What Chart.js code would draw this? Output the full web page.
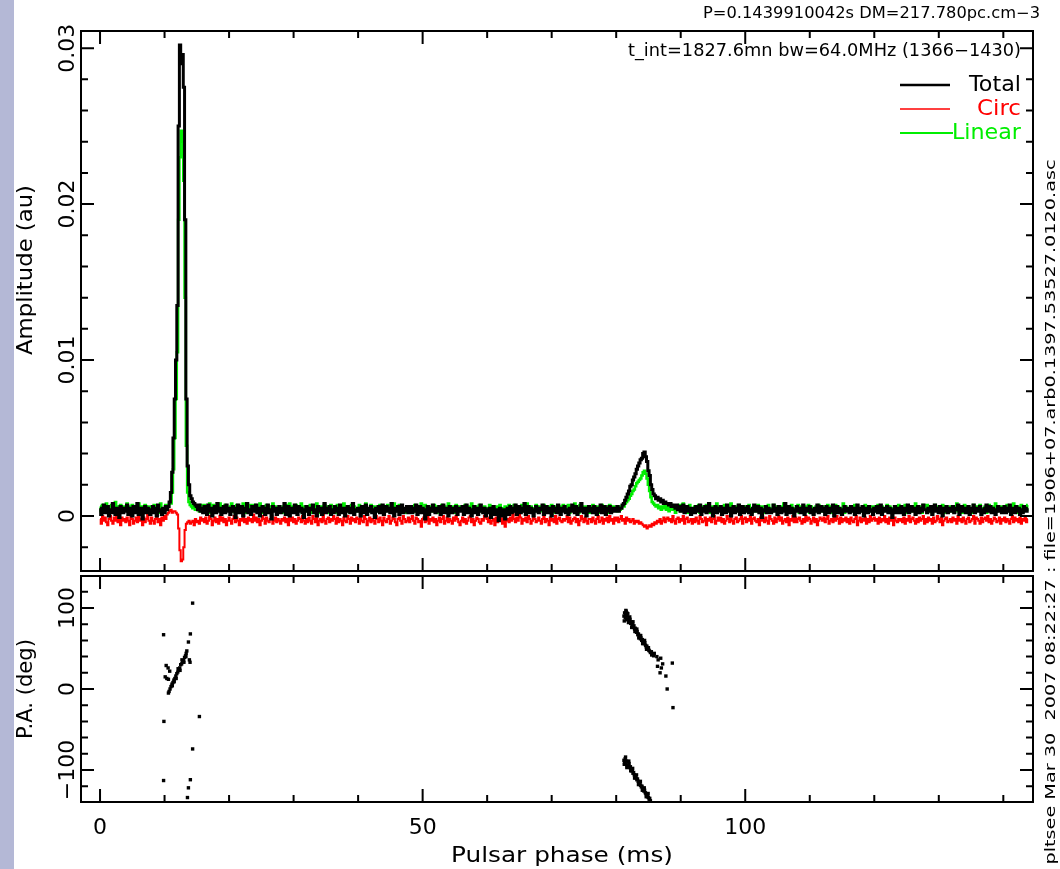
<!DOCTYPE html>
<html>
<head>
<meta charset="utf-8">
<title>Pulsar profile</title>
<script src="https://cdn.jsdelivr.net/npm/chart.js@4.4.1/dist/chart.umd.min.js"></script>
<style>
  html, body { margin: 0; padding: 0; background: #fff; }
  #page { position: relative; width: 1060px; height: 869px; overflow: hidden; }
  #strip { position: absolute; left: 0; top: 0; width: 14px; height: 869px; background: #b4b8d6; }
  canvas { position: absolute; left: 0; top: 0; }
</style>
</head>
<body>
<div id="page">
  <div id="strip"></div>
  <canvas id="profile" width="1060" height="869"></canvas>
  <canvas id="angle" width="1060" height="869"></canvas>
</div>
<script>
// --- datos ---
const binWidth = 0.2;   // ms por bin de fase
const ampUnit = 1e-4;   // valores en unidades de 1e-4 au

const totalI = [
  5,1,4,7,2,3,6,0,4,2,8,3,1,5,4,-1,6,3,2,5,
  3,7,1,4,5,0,6,2,4,8,1,3,5,-2,4,6,2,5,3,1,
  4,6,2,5,0,7,3,4,1,5,2,6,4,6,9,15,28,50,75,100,
  135,250,302,290,296,275,190,75,32,20,13,11,9,8,7,6,4,7,3,5,
  2,6,4,1,7,3,5,0,4,6,2,8,3,5,1,4,6,2,7,3,
  5,1,4,6,3,-1,5,7,2,4,6,0,3,5,8,2,4,1,6,3,
  4,7,2,5,0,3,6,4,1,5,7,2,4,-2,6,3,5,1,4,6,
  2,5,3,8,1,4,6,0,3,5,2,7,4,1,6,3,5,2,-1,4,
  6,3,1,5,4,7,2,4,0,6,3,5,1,4,8,2,5,3,6,1,
  4,2,6,3,5,1,7,4,2,5,0,3,6,4,2,5,8,1,4,3,
  5,3,0,6,2,4,7,1,5,3,6,2,4,-1,5,3,6,2,4,7,
  1,4,6,3,5,2,8,4,0,5,3,6,1,4,7,2,5,3,6,2,
  4,6,2,5,3,7,1,4,6,2,5,3,-2,4,6,1,5,3,7,4,
  2,5,3,6,1,4,7,2,5,3,0,6,4,2,5,3,6,1,4,5,
  3,6,1,4,7,2,5,3,0,4,6,2,5,1,3,7,4,2,5,0,
  4,2,5,-1,3,6,1,4,2,-3,5,3,0,4,-2,3,5,1,6,2,
  5,3,7,1,4,6,2,5,3,8,1,4,6,2,5,3,0,4,6,3,
  2,5,4,7,1,3,6,2,5,4,0,6,3,5,2,7,4,1,5,3,
  6,2,4,1,5,3,7,4,2,6,1,5,3,8,4,2,5,0,4,6,
  3,5,2,6,4,1,5,3,7,2,4,6,1,5,3,6,2,4,5,3,
  4,6,3,5,5,7,8,10,12,14,16,19,20,23,25,27,30,32,34,36,
  37,40,41,38,35,29,26,20,17,14,13,11,12,10,11,9,10,8,9,8,
  8,7,8,6,7,6,5,7,4,6,3,5,7,2,4,6,3,5,1,4,
  5,2,6,3,4,7,1,5,3,6,2,4,8,3,5,0,4,6,2,5,
  3,6,1,4,5,2,7,3,5,0,4,6,2,5,3,7,1,4,6,2,
  5,3,6,2,4,1,5,7,3,4,6,2,5,-1,4,3,6,2,5,4,
  2,4,7,3,5,1,6,4,2,5,3,8,1,4,6,2,5,3,0,4,
  6,3,5,2,4,7,1,4,5,3,6,2,4,1,5,3,7,2,4,6,
  3,5,1,6,4,2,5,3,7,0,4,6,2,5,3,1,4,6,3,5,
  4,2,6,3,5,1,4,7,2,5,3,6,0,4,5,2,6,3,4,1,
  5,3,6,2,4,7,1,5,3,4,6,2,5,3,-1,4,6,2,5,3,
  2,6,4,1,5,3,7,2,4,6,3,5,1,4,6,2,5,3,7,4,
  4,2,5,3,6,1,4,7,3,5,2,6,4,0,5,3,6,2,4,5,
  3,6,2,5,4,7,1,4,6,3,5,2,4,6,1,5,3,7,2,4,
  5,3,6,1,4,2,5,7,3,4,6,2,5,3,1,4,6,3,5,2,
  4,6,2,5,3,7,1,4,5,2,6,3,5,1,4,2,6,4,3,5
];

const circV = [
  -2,-5,0,-3,-1,-4,-6,-2,0,-3,-5,-1,-3,1,-4,-2,-6,-1,-3,-2,
  -4,-1,-3,-6,0,-2,-5,-3,-1,-4,0,-3,-2,-6,-1,-4,-2,1,-3,-5,
  -1,-3,-5,-2,0,-4,-2,-6,-1,-3,0,-2,1,2,3,4,2,3,3,2,
  1,-8,-22,-29,-28,-20,-9,-5,-4,-3,-5,-4,-3,-6,-2,-4,-3,-5,-1,-3,
  -2,-4,-1,-5,-3,0,-2,-6,-3,-1,-4,-2,-5,0,-3,-1,-4,-2,-6,-3,
  -1,-3,-5,-2,0,-4,-1,-3,-6,-2,-3,0,-4,-2,-5,-1,-3,-2,-4,1,
  -3,-1,-4,-2,-6,-3,0,-2,-5,-1,-3,-4,-2,0,-5,-3,-1,-4,-2,-3,
  -5,-2,-3,-1,-4,-2,-6,0,-3,-1,-4,-2,-5,-3,-1,-2,-4,0,-3,-5,
  -2,-4,-1,-3,-5,0,-2,-4,-1,-6,-3,-2,-4,1,-3,-5,-2,-1,-4,-2,
  -3,0,-2,-5,-1,-4,-2,-3,-6,-1,-3,-4,0,-2,-5,-1,-3,-2,-4,-1,
  -2,-5,-1,-3,-4,0,-2,-6,-3,-1,-4,-2,-3,-5,0,-2,-4,-1,-3,-6,
  -1,-3,-4,-2,0,-5,-3,-1,-2,-4,-6,-2,-1,-3,-5,0,-2,-4,-3,-1,
  -4,-2,0,-3,-5,-1,-2,-4,-3,-7,-2,-1,-4,-3,0,-5,-2,-3,-1,-4,
  -2,-6,-3,-1,-4,-2,0,-5,-3,-1,-4,-2,-3,-5,-1,-3,0,-2,-4,-6,
  -3,-1,-4,-2,-5,-3,-1,0,-4,-2,-6,-3,-1,-2,-4,-5,-2,-3,0,-1,
  -2,-4,-1,-5,-3,-2,-6,-1,-4,-3,0,-2,-5,-1,-7,-3,-2,-4,-1,-3,
  3,-2,-4,-1,-3,4,-1,-5,-2,-3,-1,-4,0,-2,-5,-3,-1,-2,-4,-3,
  -1,-3,-5,-2,0,-4,-2,-3,-6,-1,-3,-2,-4,0,-5,-2,-1,-3,-4,-2,
  -3,-2,0,-4,-1,-5,-3,-2,-1,-4,-2,-6,-3,0,-2,-4,-1,-3,-5,-2,
  -2,-4,-1,-3,-5,-2,0,-4,-3,-1,-5,-2,-3,-1,-4,0,-3,-2,-5,-1,
  -3,-1,-4,-2,0,-3,-2,-5,-1,-3,-2,-4,-3,-2,-5,-3,-4,-3,-5,-4,
  -5,-6,-7,-6,-8,-7,-6,-7,-5,-6,-4,-5,-3,-4,-2,-5,-3,-1,-4,-2,
  -1,-3,-2,-4,0,-3,-5,-2,-1,-4,-2,-3,0,-5,-2,-1,-4,-3,-2,-5,
  -2,-4,-1,-3,-5,0,-2,-4,-3,-1,-6,-2,-3,-1,-4,-2,0,-5,-3,-1,
  -3,-1,-4,-2,-5,-3,0,-2,-4,-1,-3,-5,-2,-1,-4,-3,-2,0,-5,-2,
  -1,-4,-2,-3,0,-5,-2,-1,-3,-4,-2,-6,-1,-3,-2,-4,-1,-3,-5,0,
  -2,-3,-5,-1,-4,-2,0,-3,-1,-5,-3,-2,-4,-1,-6,-2,-3,0,-4,-1,
  -4,-2,-1,-3,-5,-2,-4,0,-3,-1,-2,-5,-3,-1,-4,-2,-6,-3,-1,-2,
  -3,-1,-4,-2,0,-5,-3,-2,-4,-1,-3,0,-2,-5,-1,-4,-2,-3,-1,-4,
  -2,-5,-1,-3,-4,-2,0,-6,-3,-1,-4,-2,-3,-1,-5,-2,-4,0,-3,-2,
  -1,-3,-2,-5,-1,-4,-2,-3,0,-4,-2,-5,-1,-3,-2,-6,-1,-3,-4,-2,
  -3,-2,-4,-1,-5,-2,-3,0,-4,-2,-1,-3,-5,-2,-4,-1,-3,-2,0,-5,
  -2,-4,-1,-3,-2,-5,-1,-4,-3,0,-2,-4,-1,-6,-3,-2,-1,-4,-3,-2,
  -4,-1,-3,-2,-5,0,-3,-2,-4,-1,-3,-5,-2,-1,-4,-3,-2,0,-5,-1,
  -2,-3,-5,-1,-4,-2,-1,-3,0,-4,-2,-5,-3,-1,-2,-4,-3,-1,-5,-2,
  -3,-1,-4,-2,-3,-5,-2,0,-4,-1,-3,-2,-4,-1,-5,-2,-3,-1,-4,-2
];

const linearL = [
  6,3,7,4,5,8,2,6,4,7,3,5,9,4,6,2,7,5,3,6,
  5,8,3,6,4,7,2,5,6,3,8,4,6,2,5,7,3,6,4,5,
  6,4,7,3,5,2,6,8,4,5,3,7,4,6,8,8,15,30,50,75,
  105,190,230,247,240,215,140,45,15,9,7,6,5,7,4,6,5,3,7,4,
  5,7,3,6,4,8,2,5,7,3,6,4,5,8,3,6,2,7,4,5,
  4,6,8,3,5,2,7,4,6,3,5,8,4,2,6,5,3,7,4,6,
  7,3,5,4,8,2,6,4,5,7,3,6,2,5,8,4,6,3,5,4,
  5,2,6,4,7,3,5,8,4,6,2,5,7,3,6,4,8,2,5,6,
  3,6,4,7,2,5,6,3,8,4,5,2,6,4,7,3,5,6,2,7,
  6,4,5,2,7,4,3,6,5,8,4,6,3,5,2,7,4,6,5,3,
  4,7,3,5,6,2,8,4,5,3,7,4,6,2,5,6,3,7,4,5,
  6,3,5,7,4,5,2,6,8,3,5,4,7,3,6,4,5,2,6,4,
  5,6,2,4,7,3,5,6,4,8,2,5,7,4,3,6,4,5,3,7,
  4,2,6,5,3,7,4,6,2,5,8,3,5,6,4,2,7,4,5,6,
  6,4,3,7,5,2,6,4,8,3,5,6,2,4,7,3,5,4,6,2,
  3,5,7,4,6,3,5,2,6,4,7,3,5,4,6,2,5,7,3,4,
  5,7,3,6,2,5,4,7,3,6,4,8,2,5,6,3,5,4,7,3,
  4,6,5,3,7,2,5,6,4,3,7,4,5,2,6,5,3,6,4,7,
  6,3,5,7,2,6,4,5,8,3,5,2,7,4,6,3,5,6,4,2,
  5,4,7,3,6,4,2,6,5,7,3,5,4,6,2,7,5,3,6,4,
  5,3,6,4,5,6,6,8,9,10,11,13,14,16,17,19,21,22,23,24,
  26,28,29,27,24,20,16,12,9,8,7,6,7,5,6,4,6,5,7,4,
  6,3,5,7,4,5,2,6,4,7,3,5,8,4,6,2,5,7,3,5,
  4,6,3,5,7,2,6,4,5,3,7,4,6,2,5,6,3,5,8,4,
  6,4,5,2,7,4,6,3,5,8,2,5,4,6,3,7,4,5,2,6,
  3,6,4,7,5,2,5,6,3,4,7,3,5,6,4,2,6,4,7,5,
  5,3,7,4,6,3,5,2,6,4,8,4,5,3,6,4,7,2,5,4,
  4,7,2,5,6,4,3,6,5,7,2,6,4,5,3,6,4,7,3,5,
  6,3,5,4,7,3,6,4,2,5,7,4,6,3,5,4,8,2,6,4,
  5,4,6,3,5,7,2,6,4,5,3,6,4,7,2,5,6,3,4,6,
  3,6,4,7,2,5,6,3,5,4,7,3,6,4,5,2,6,5,3,7,
  6,4,5,3,7,4,2,6,5,3,6,4,8,3,5,6,4,2,7,5,
  4,7,3,5,6,2,5,7,4,6,3,5,4,7,2,6,4,5,3,6,
  5,3,6,4,8,3,5,6,2,4,7,5,3,6,4,5,2,7,4,6,
  6,4,7,3,5,4,6,2,5,7,3,6,4,5,8,3,5,4,6,3,
  4,6,3,7,5,3,6,4,8,5,2,6,5,4,7,3,6,5,4,7
];

// angulo de polarizacion (fase en ms, angulo en grados)
const paPhase = [
  // componente principal
  9.85, 9.85, 9.9, 10.1, 10.35, 10.6, 10.25, 10.55, 10.8,
  10.6, 10.7, 10.85, 11.0, 11.15, 11.3, 11.45, 11.6, 11.75, 11.9, 12.05,
  12.2, 12.35, 12.5, 12.65, 12.8, 12.95, 13.1, 13.25, 13.35, 13.45,
  11.2, 11.5, 11.8, 12.1, 12.4, 12.7, 13.0, 13.3,
  13.85, 13.95, 13.7, 14.0, 14.35, 15.4, 14.35, 14.0, 13.7, 13.55,
  // interpulso, rama superior
  81.2, 81.3, 81.4, 81.45, 81.55, 81.6, 81.7, 81.8, 81.85, 81.95,
  82.05, 82.15, 82.25, 82.35, 82.45, 82.55, 82.65, 82.75, 82.85, 82.95,
  83.05, 83.15, 83.25, 83.35, 83.45, 83.55, 83.65, 83.75, 83.85, 83.95,
  84.05, 84.15, 84.25, 84.35, 84.45, 84.55, 84.65, 84.75, 84.85, 84.95,
  85.05, 85.15, 85.3, 85.45, 85.6, 85.8,
  81.25, 81.5, 81.65, 81.9, 82.1, 82.4, 82.6, 82.9, 83.2, 83.5,
  83.8, 84.1, 84.4, 84.7, 85.0, 85.5, 85.9,
  86.3, 86.4, 86.5, 86.8, 86.9, 87.0, 87.2, 87.7, 87.9, 88.7, 88.8,
  // interpulso, rama inferior
  81.2, 81.3, 81.4, 81.5, 81.6, 81.7, 81.8, 81.9, 82.0, 82.1,
  82.2, 82.3, 82.4, 82.5, 82.6, 82.7, 82.8, 82.9, 83.0, 83.1,
  83.2, 83.3, 83.4, 83.5, 83.6, 83.7, 83.8, 83.9, 84.0, 84.1,
  84.2, 84.3, 84.4, 84.5, 84.6, 84.7, 84.8, 84.9, 85.0, 85.1, 85.2, 85.3,
  81.25, 81.45, 81.65, 81.95, 82.25, 82.55, 82.85, 83.15, 83.45, 83.75,
  84.05, 84.35, 84.65, 84.95, 85.25
];
const paAngle = [
  67, -113, -40, 15, 13, 12, 29, 26, 22,
  -5, -3, 0, 3, 6, 8, 11, 13, 16, 19, 21,
  24, 26, 30, 31, 34, 35, 39, 41, 44, 47,
  4, 9, 13, 25, 23, 36, 33, 40,
  36, 33, 58, 68, 106, -34, -74, -112, -122, -134,
  90, 94, 88, 92, 96, 86, 90, 93, 85, 88,
  84, 86, 81, 83, 79, 80, 76, 78, 74, 75,
  72, 70, 71, 67, 68, 65, 66, 62, 63, 60,
  61, 58, 59, 56, 57, 54, 52, 53, 50, 51,
  48, 47, 45, 46, 43, 41,
  84, 97, 94, 82, 89, 76, 83, 71, 74, 63,
  66, 56, 60, 49, 51, 42, 44,
  40, 28, 36, 20, 38, 26, 31, 16, 0, 32, -23,
  -88, -91, -86, -93, -89, -95, -90, -94, -92, -97,
  -96, -99, -101, -100, -104, -103, -106, -108, -107, -110,
  -112, -111, -114, -116, -115, -118, -119, -121, -120, -123,
  -124, -126, -125, -128, -129, -131, -130, -133, -134, -136, -135, -138,
  -93, -84, -97, -89, -101, -98, -110, -106, -118, -114,
  -125, -122, -133, -129, -139
];

// etiquetas de ejes
const phaseLabels = [0, 50, 100];
const ampLabels = [0, 0.01, 0.02, 0.03];
const paLabels = [-100, 0, 100];

const headerLine1 = "P=0.1439910042s DM=217.780pc.cm\u22123";
const headerLine2 = "t_int=1827.6mn bw=64.0MHz (1366\u22121430)";
const sideNote = "pltsee Mar 30  2007 08:22:27 : file=1906+07.arb0.1397.53527.0120.asc";

// --- ayudas de dibujo ---
const FONT = '"DejaVu Sans", sans-serif';
const TICK_MAJOR = 13, TICK_MINOR = 7;

function text(ctx, str, x, y, opt = {}) {
  ctx.save();
  ctx.font = `${opt.size || 20}px ${FONT}`;
  ctx.fillStyle = opt.color || "#000";
  ctx.textBaseline = "middle";
  const w = ctx.measureText(str).width;
  ctx.translate(x, y);
  if (opt.rotate) ctx.rotate(-Math.PI / 2);
  ctx.scale(opt.width ? opt.width / w : 1, 1);
  let dx = -w / 2;
  if (opt.align === "left") dx = 0;
  if (opt.align === "right") dx = -w;
  ctx.fillText(str, dx, 0);
  ctx.restore();
}

function frame(chart, xMajor, xMinor, yMajor, yMinor) {
  const { ctx, chartArea: a } = chart;
  const sx = chart.scales.x, sy = chart.scales.y;
  ctx.save();
  ctx.strokeStyle = "#000";
  ctx.lineWidth = 2;
  ctx.strokeRect(a.left, a.top, a.right - a.left, a.bottom - a.top);
  ctx.beginPath();
  const tx = (v, len) => {
    const p = sx.getPixelForValue(v);
    ctx.moveTo(p, a.bottom); ctx.lineTo(p, a.bottom - len);
    ctx.moveTo(p, a.top); ctx.lineTo(p, a.top + len);
  };
  const ty = (v, len) => {
    const p = sy.getPixelForValue(v);
    ctx.moveTo(a.left, p); ctx.lineTo(a.left + len, p);
    ctx.moveTo(a.right, p); ctx.lineTo(a.right - len, p);
  };
  xMinor.forEach(v => tx(v, TICK_MINOR));
  xMajor.forEach(v => tx(v, TICK_MAJOR));
  yMinor.forEach(v => ty(v, TICK_MINOR));
  yMajor.forEach(v => ty(v, TICK_MAJOR));
  ctx.stroke();
  ctx.restore();
}

const phaseMinor = [];
for (let v = 10; v <= 140; v += 10) if (!phaseLabels.includes(v)) phaseMinor.push(v);
const ampMinor = [];
for (let k = -1; k <= 15; k++) if (k % 5 !== 0) ampMinor.push(k * 0.002);
const paMinor = [];
for (let v = -120; v <= 120; v += 20) if (v % 100 !== 0) paMinor.push(v);

// --- panel superior: perfil ---
const phase = totalI.map((_, i) => i * binWidth);
const toPoints = arr => arr.map((v, i) => ({ x: phase[i], y: v * ampUnit }));

const profileDecor = {
  id: "profileDecor",
  afterDraw(chart) {
    const ctx = chart.ctx;
    const sy = chart.scales.y;
    frame(chart, phaseLabels, phaseMinor, ampLabels, ampMinor);

    ampLabels.forEach(v => {
      text(ctx, v === 0 ? "0" : v.toFixed(2), 68, sy.getPixelForValue(v), { size: 22, rotate: true });
    });
    text(ctx, "Amplitude (au)", 26, 270, { size: 22, rotate: true, width: 170 });

    text(ctx, headerLine1, 1040, 14, { size: 15, align: "right", width: 337 });
    text(ctx, headerLine2, 1021, 52, { size: 17, align: "right", width: 393 });

    // leyenda
    const legend = [
      { name: "Total", color: "#000000", lw: 2.5, y: 85, w: 52, x1: 950 },
      { name: "Circ", color: "#ff0000", lw: 1.5, y: 109, w: 44, x1: 950 },
      { name: "Linear", color: "#00ee00", lw: 2, y: 133, w: 69, x1: 953 }
    ];
    legend.forEach(e => {
      ctx.save();
      ctx.strokeStyle = e.color;
      ctx.lineWidth = e.lw;
      ctx.beginPath();
      ctx.moveTo(900, e.y);
      ctx.lineTo(e.x1, e.y);
      ctx.stroke();
      ctx.restore();
      text(ctx, e.name, 1021, e.y, { size: 22, align: "right", width: e.w, color: e.color });
    });

    text(ctx, sideNote, 1051, 512, { size: 14, rotate: true, width: 705 });
  }
};

new Chart(document.getElementById("profile"), {
  type: "line",
  data: {
    datasets: [
      { label: "Total", data: toPoints(totalI), borderColor: "#000", borderWidth: 3, stepped: "middle" },
      { label: "Linear", data: toPoints(linearL), borderColor: "#00ee00", borderWidth: 2.5, stepped: "middle" },
      { label: "Circ", data: toPoints(circV), borderColor: "#ff0000", borderWidth: 2, stepped: "middle" }
    ]
  },
  options: {
    responsive: false,
    animation: false,
    layout: { padding: { left: 81, right: 27, top: 31, bottom: 298 } },
    elements: { point: { radius: 0 }, line: { tension: 0 } },
    plugins: { legend: { display: false }, tooltip: { enabled: false } },
    scales: {
      x: { type: "linear", min: -2.95, max: 144.6, display: false },
      y: { type: "linear", min: -0.00353, max: 0.0311, display: false }
    }
  },
  plugins: [profileDecor]
});

// --- panel inferior: angulo de posicion ---
const angleDecor = {
  id: "angleDecor",
  afterDraw(chart) {
    const ctx = chart.ctx;
    const sx = chart.scales.x, sy = chart.scales.y;
    frame(chart, phaseLabels, phaseMinor, paLabels, paMinor);

    paLabels.forEach(v => {
      text(ctx, v < 0 ? "\u2212" + Math.abs(v) : String(v), 68, sy.getPixelForValue(v), { size: 22, rotate: true });
    });
    text(ctx, "P.A. (deg)", 26, 689, { size: 22, rotate: true, width: 100 });

    phaseLabels.forEach(v => {
      text(ctx, String(v), sx.getPixelForValue(v), 828, { size: 22 });
    });
    text(ctx, "Pulsar phase (ms)", 562, 856, { size: 22, width: 222 });
  }
};

new Chart(document.getElementById("angle"), {
  type: "scatter",
  data: {
    datasets: [{
      label: "P.A.",
      data: paPhase.map((p, i) => ({ x: p, y: paAngle[i] })),
      pointStyle: "rect",
      pointRadius: 2.4,
      borderWidth: 0,
      backgroundColor: "#000"
    }]
  },
  options: {
    responsive: false,
    animation: false,
    layout: { padding: { left: 81, right: 27, top: 576, bottom: 67 } },
    plugins: { legend: { display: false }, tooltip: { enabled: false } },
    scales: {
      x: { type: "linear", min: -2.95, max: 144.6, display: false },
      y: { type: "linear", min: -139.5, max: 139.5, display: false }
    }
  },
  plugins: [angleDecor]
});
</script>
</body>
</html>
